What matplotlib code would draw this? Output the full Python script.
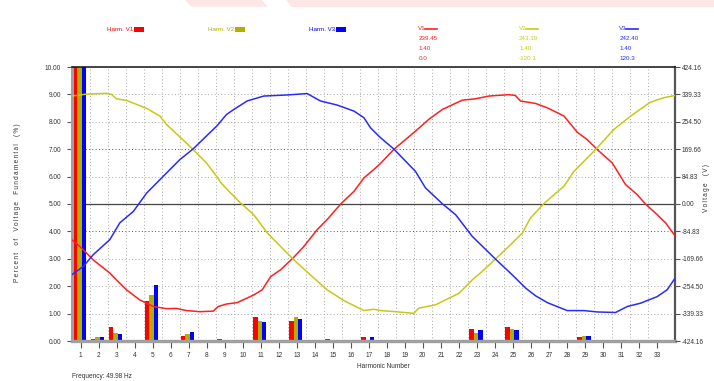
import numpy as np
import matplotlib
matplotlib.use("Agg")
import matplotlib.pyplot as plt
from matplotlib.patches import Rectangle, Polygon
from matplotlib.lines import Line2D

plt.rcParams.update({"font.family": ["Liberation Sans", "DejaVu Sans"], "font.size": 4.7})

# ── Data ─────────────────────────────────────────────────────────────────────
harmonics = np.arange(1, 34)
harm_v1 = [100, 0.06, 0.50, 0, 1.47, 0, 0.18, 0, 0.06, 0, 0.87, 0, 0.74, 0, 0.06, 0, 0.15,
           0, 0.05, 0, 0, 0, 0.45, 0, 0.51, 0, 0, 0, 0.13, 0, 0.04, 0, 0]
harm_v2 = [100, 0.14, 0.30, 0, 1.69, 0, 0.26, 0, 0, 0, 0.73, 0, 0.87, 0, 0, 0, 0.05,
           0, 0, 0, 0, 0, 0.28, 0, 0.45, 0, 0, 0, 0.17, 0, 0.04, 0, 0]
harm_v3 = [100, 0.14, 0.26, 0, 2.06, 0, 0.32, 0, 0, 0, 0.68, 0, 0.82, 0, 0, 0, 0.14,
           0, 0, 0, 0.05, 0, 0.40, 0, 0.40, 0, 0, 0, 0.17, 0, 0.04, 0, 0]

# waveforms over one cycle (time in ms, voltage in V)
t_v1 = [0.00, 0.28, 0.72, 1.27, 1.49, 1.82, 2.26, 2.71, 3.15, 3.48, 3.81, 4.25, 4.70, 4.86,
        5.14, 5.49, 6.04, 6.32, 6.60, 6.93, 7.37, 7.70, 8.14, 8.47, 8.92, 9.36, 9.69, 10.02,
        10.24, 10.68, 11.40, 11.84, 12.29, 12.95, 13.39, 13.83, 14.49, 14.71, 14.88, 15.38,
        15.77, 16.32, 16.76, 17.09, 17.42, 17.92, 18.36, 18.75, 19.02, 19.41, 19.69, 20.00]
wave_v1 = [-110.3, -131.5, -173.1, -213.8, -235.0, -265.5, -296.9, -317.3, -324.1, -323.2,
           -330.0, -333.4, -331.7, -317.3, -309.6, -305.4, -281.6, -265.5, -224.8, -203.6,
           -164.6, -131.5, -79.7, -48.4, 0.0, 39.0, 80.6, 106.9, 125.5, 168.8, 225.6, 262.1,
           292.7, 321.5, 325.7, 334.2, 338.5, 335.9, 318.9, 311.3, 297.7, 272.3, 222.3, 199.4,
           168.8, 127.2, 60.2, 28.8, 0.0, -33.1, -58.5, -98.4]
t_v2 = [0.00, 0.50, 1.16, 1.33, 1.49, 1.82, 2.49, 2.93, 3.15, 3.59, 4.03, 4.47, 4.81, 4.94,
        5.14, 5.60, 6.04, 6.49, 6.93, 7.37, 7.92, 8.47, 9.02, 9.69, 10.02, 10.24, 10.74, 11.34,
        11.51, 12.06, 12.84, 13.28, 13.61, 14.05, 14.49, 14.94, 15.21, 15.65, 16.32, 16.65,
        17.37, 17.97, 18.53, 19.19, 19.63, 20.00]
wave_v2 = [334.2, 340.2, 342.7, 339.3, 325.7, 320.7, 296.1, 272.3, 246.0, 207.8, 168.8, 127.2,
           85.7, 67.0, 46.7, 3.4, -33.1, -89.9, -131.5, -173.1, -219.7, -265.5, -298.6, -330.0,
           -325.8, -330.0, -333.4, -338.5, -322.4, -312.2, -276.5, -235.0, -208.7, -170.5,
           -131.5, -89.9, -43.3, 0.8, 55.1, 100.9, 168.8, 230.7, 272.3, 315.6, 329.1, 335.9]
t_v3 = [0.00, 0.39, 0.72, 1.27, 1.60, 2.05, 2.49, 3.04, 3.59, 4.03, 4.47, 4.81, 5.14, 5.38,
        5.82, 6.37, 7.15, 7.81, 8.25, 8.81, 9.36, 9.69, 9.91, 10.24, 10.68, 11.40, 11.73, 12.29,
        12.73, 13.28, 14.05, 14.61, 15.05, 15.38, 15.77, 16.43, 16.98, 17.42, 18.03, 18.42,
        18.86, 19.41, 19.74, 20.00]
wave_v3 = [-219.7, -193.4, -156.9, -110.3, -58.5, -22.9, 33.9, 85.7, 137.4, 170.5, 210.4, 240.9,
           277.4, 292.7, 319.0, 334.2, 337.6, 341.9, 319.0, 306.2, 287.6, 267.2, 235.8, 205.3,
           170.5, 100.9, 50.0, 0.8, -33.1, -100.1, -170.5, -219.7, -260.4, -284.2, -305.4,
           -330.0, -330.0, -334.2, -335.9, -317.3, -307.1, -286.7, -265.5, -229.9]

pct_ticks = [0, 1, 2, 3, 4, 5, 6, 7, 8, 9, 10]
volt_ticks = [-424.16, -339.33, -254.50, -169.66, -84.83, 0.00, 84.83, 169.66, 254.50, 339.33, 424.16]

series_names = ["V1", "V2", "V3"]
rms_vals = ["239.45", "243.19", "242.40"]
thd_vals = ["1.40", "1.40", "1.40"]
angle_vals = ["0.0", "-120.1", "120.3"]
frequency = "49.98 Hz"

RED, OLIVE, BLUE = "#ff0000", "#b0b000", "#0000ff"
LINE_COLS = ["#ff2020", "#c8c818", "#2a2aff"]
BAR_COLS = [RED, OLIVE, BLUE]
TXT = "#333333"


def spaced(s):
    # the instrument software draws axis titles letter-spaced
    return "\u2009".join(s)


# ── Figure ───────────────────────────────────────────────────────────────────
W, H = 714, 381
fig = plt.figure(figsize=(W / 100, H / 100), dpi=100, facecolor="white")

def fx(x): return x / W
def fy(y): return 1 - y / H

pos = [fx(71.5), fy(341), fx(675) - fx(71.5), fy(67) - fy(341)]
ax = fig.add_axes(pos)
ax.set_xlim(0.5, 34)
ax.set_ylim(0, 10)

# grid
for y in pct_ticks[1:-1]:
    if y == 5:
        continue
    dark = y in (4, 7)
    ax.axhline(y, color="#555555" if dark else "#aaaaaa", lw=0.7,
               ls=(0, (1, 2.4)), zorder=0)
for h in harmonics[:-1]:
    ax.axvline(h + 0.5, color="#aaaaaa", lw=0.7, ls=(0, (1, 2.4)), zorder=0)
ax.axhline(5, color="#444444", lw=0.9, zorder=1)

# harmonic bars
bw = 0.245
for k, (vals, col) in enumerate(zip([harm_v1, harm_v2, harm_v3], BAR_COLS)):
    ax.bar(harmonics - 0.05 + (k - 1) * bw, vals, width=bw, color=col,
           linewidth=0, zorder=2)

ax.set_xticks(harmonics)
ax.set_xticklabels([str(h) for h in harmonics])
ax.set_yticks(pct_ticks)
ax.set_yticklabels([f"{v:.2f}" for v in pct_ticks])
ax.tick_params(axis="x", length=5, width=0.8, color="#555555", pad=3, labelcolor=TXT)
ax.tick_params(axis="y", length=3.5, width=0.8, color="#555555", pad=4, labelcolor=TXT)

ax.spines["left"].set_color("#a0a0a0"); ax.spines["left"].set_linewidth(2.2)
ax.spines["bottom"].set_color("#a0a0a0"); ax.spines["bottom"].set_linewidth(2.4)
ax.spines["top"].set_color("#111111"); ax.spines["top"].set_linewidth(1.1)
ax.spines["right"].set_color("#555555"); ax.spines["right"].set_linewidth(1.6)

# waveform overlay
axw = fig.add_axes(pos, frameon=False)
axw.patch.set_visible(False)
axw.set_xlim(0, 20)
axw.set_ylim(-424.16, 424.16)
axw.set_xticks([])
axw.yaxis.tick_right()
axw.set_yticks(volt_ticks)
axw.set_yticklabels([f"{v:.2f}" for v in volt_ticks])
axw.tick_params(axis="y", length=3.5, width=0.8, color="#555555", pad=1.5, labelcolor=TXT)
for t, v, col in zip([t_v1, t_v2, t_v3], [wave_v1, wave_v2, wave_v3], LINE_COLS):
    axw.plot(t, v, color=col, lw=1.1, solid_joinstyle="round", zorder=3)

# axis labels
fig.text(fx(17.5), fy(203), spaced("Percent  of  Voltage  Fundamental  (%)"), rotation=90,
         ha="center", va="center", color=TXT, fontsize=4.7)
fig.text(fx(707), fy(188), spaced("Voltage  (V)"), rotation=90, ha="center", va="center",
         color=TXT, fontsize=4.7)
fig.text(fx(383), fy(367), "Harmonic Number", ha="center", va="center", color=TXT,
         fontsize=4.7)
fig.text(fx(71.7), fy(376.5), f"Frequency: {frequency}", ha="left", va="center",
         color=TXT, fontsize=4.7)

# header: harmonic bar legend
for name, col, x0 in zip(series_names, BAR_COLS, [133, 234, 335]):
    fig.text(fx(x0), fy(29.7), f"Harm. {name}", ha="right", va="center", color=col,
             fontsize=4.5)
    fig.patches.append(Rectangle((fx(x0 + 0.5), fy(32)), 10 / W, 4.6 / H,
                                 transform=fig.transFigure, facecolor=col, edgecolor="none"))

# header: waveform legend with readings
for name, col, x0, rms, thd, ang in zip(series_names, LINE_COLS, [418.3, 519, 619.3],
                                         rms_vals, thd_vals, angle_vals):
    fig.text(fx(x0), fy(29), name, ha="left", va="center", color=col, fontsize=4.5)
    fig.lines.append(Line2D([fx(x0 + 7), fx(x0 + 19)], [fy(29), fy(29)],
                            transform=fig.transFigure, color=col, lw=1.2))
    for row, s in enumerate([rms, thd, ang]):
        fig.text(fx(x0), fy(39 + row * 9.5), s, ha="left", va="center", color=col,
                 fontsize=4.5)

# faint banner at the very top
PINK = "#fde6e6"
fig.patches.append(Polygon([(fx(185), 1), (fx(262), 1), (fx(268), fy(6.7)), (fx(191), fy(6.7))],
                           closed=True, transform=fig.transFigure, facecolor=PINK,
                           edgecolor="none"))
fig.patches.append(Polygon([(fx(286), 1), (fx(714), 1), (fx(714), fy(6.7)), (fx(292), fy(6.7))],
                           closed=True, transform=fig.transFigure, facecolor=PINK,
                           edgecolor="none"))

fig.savefig("out.png", dpi=100, facecolor="white")
